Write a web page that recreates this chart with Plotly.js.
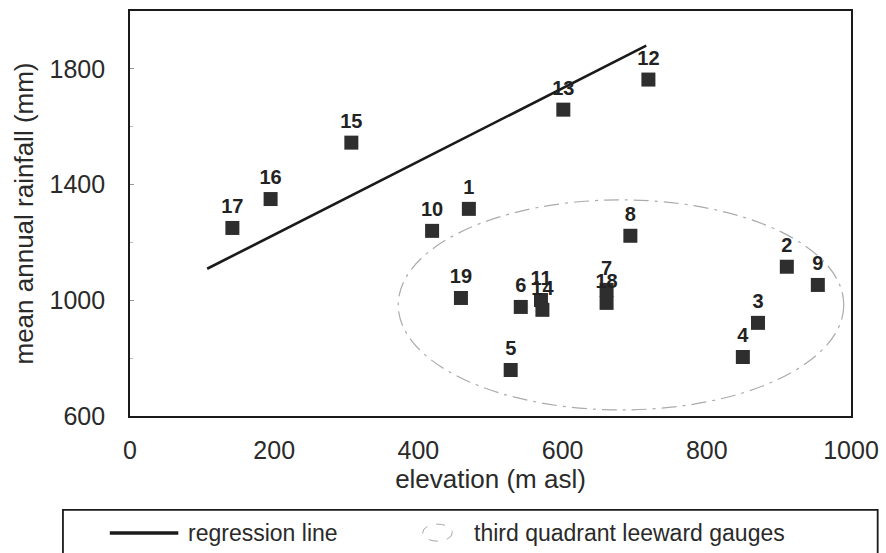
<!DOCTYPE html>
<html>
<head>
<meta charset="utf-8">
<script src="https://cdn.plot.ly/plotly-3.0.1.min.js"></script>
<style>html,body{margin:0;padding:0;background:#fff;}#chart{width:886px;height:553px;}</style>
</head>
<body>
<div id="chart"></div>
<script>
// Gauge data
const gaugeIds   = ['17','16','15','10','1','19','6','11','14','5','7','18','8','13','12','2','9','3','4'];
const elevation  = [142, 195, 307, 419, 470, 459, 542, 570, 572, 528, 661, 661, 694, 601, 719, 911, 954, 871, 850];
const rainfall   = [1250,1350,1545,1240,1316,1008, 977,1001, 967, 759,1036, 991,1223,1659,1763,1116,1053, 922, 804];

// Regression line end points
const regElev = [107, 716];
const regRain = [1109, 1880];

// "third quadrant leeward gauges" envelope (bounding box)
const envElev = [372, 990];
const envRain = [621, 1347];

const xTicks = [0, 200, 400, 600, 800, 1000];
const yTicks = [600, 1000, 1400, 1800];

const FONT = 'Liberation Sans, Arial, Helvetica, sans-serif';

const traces = [
  {
    x: regElev, y: regRain, mode: 'lines', type: 'scatter',
    line: {color: '#1a1a1a', width: 2.6}, hoverinfo: 'skip', showlegend: false
  },
  {
    x: elevation, y: rainfall, text: gaugeIds, mode: 'markers+text', type: 'scatter',
    textposition: 'top center',
    textfont: {family: FONT, size: 20, color: '#222', weight: 'bold'},
    marker: {symbol: 'square', size: 14, color: '#2e2e2e'},
    showlegend: false
  }
];

const layout = {
  width: 886, height: 553,
  margin: {l: 130, r: 35, t: 11, b: 137},
  paper_bgcolor: '#fff', plot_bgcolor: '#fff',
  font: {family: FONT, color: '#2a2a2a'},
  showlegend: false,
  xaxis: {
    range: [0, 1000], tickvals: xTicks, ticktext: xTicks.map(String),
    showgrid: false, zeroline: false,
    showline: true, mirror: true, linecolor: '#1a1a1a', linewidth: 1.8,
    ticks: '', ticklabelstandoff: 11,
    tickfont: {family: FONT, size: 25, color: '#2a2a2a'},
    title: {text: 'elevation (m asl)', font: {family: FONT, size: 26, color: '#2a2a2a'}, standoff: 7}
  },
  yaxis: {
    range: [600, 2000], tickvals: yTicks, ticktext: yTicks.map(String),
    showgrid: false, zeroline: false,
    showline: true, mirror: true, linecolor: '#1a1a1a', linewidth: 1.8,
    ticks: 'inside', ticklen: 4, tickcolor: '#999',
    minor: {dtick: 200, ticks: 'inside', ticklen: 3, tickcolor: '#bbb'},
    ticklabelstandoff: 18,
    tickfont: {family: FONT, size: 25, color: '#2a2a2a'},
    title: {text: 'mean annual rainfall (mm)', font: {family: FONT, size: 26, color: '#2a2a2a'}, standoff: 8}
  },
  shapes: [
    {type: 'circle', xref: 'x', yref: 'y', x0: envElev[0], x1: envElev[1], y0: envRain[0], y1: envRain[1],
     line: {color: '#ababab', width: 1.2, dash: 'longdashdot'}},
    // legend box
    {type: 'rect', xref: 'paper', yref: 'paper', x0: -0.093, x1: 1.037, y0: -0.36, y1: -0.232,
     line: {color: '#1a1a1a', width: 1.8}, fillcolor: 'rgba(0,0,0,0)'},
    // legend line sample
    {type: 'line', xref: 'paper', yref: 'paper', x0: -0.028, x1: 0.067, y0: -0.289, y1: -0.289,
     line: {color: '#1a1a1a', width: 3.4}},
    // legend ellipse sample
    {type: 'circle', xref: 'paper', yref: 'paper', x0: 0.406, x1: 0.447, y0: -0.309, y1: -0.267,
     line: {color: '#a5a5a5', width: 1, dash: 'dash'}}
  ],
  annotations: [
    {xref: 'paper', yref: 'paper', x: 0.078, y: -0.289, xanchor: 'left', yanchor: 'middle',
     text: 'regression line', showarrow: false, font: {family: FONT, size: 23, color: '#2a2a2a'}},
    {xref: 'paper', yref: 'paper', x: 0.475, y: -0.289, xanchor: 'left', yanchor: 'middle',
     text: 'third quadrant leeward gauges', showarrow: false, font: {family: FONT, size: 23, color: '#2a2a2a'}}
  ]
};

Plotly.newPlot('chart', traces, layout, {displayModeBar: false, staticPlot: true});
</script>
</body>
</html>
